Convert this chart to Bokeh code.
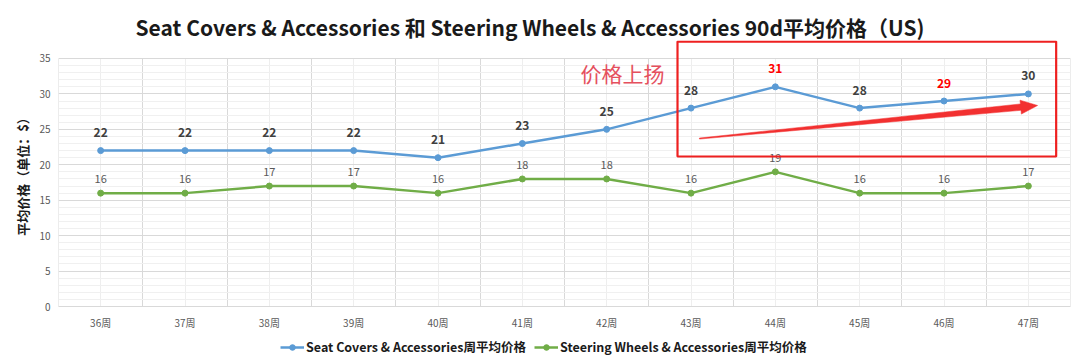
import math
from bokeh.plotting import figure
from bokeh.layouts import column
from bokeh.models import (ColumnDataSource, FactorRange, Range1d, FixedTicker, BoxAnnotation,
                          Label, LabelSet, Legend, LegendItem)
from bokeh.core.properties import value
from bokeh.embed import file_html
from bokeh.resources import INLINE

# ---------------- data ----------------
weeks = ["36周", "37周", "38周", "39周", "40周", "41周", "42周", "43周", "44周", "45周", "46周", "47周"]
seat_prices = [22, 22, 22, 22, 21, 23, 25, 28, 31, 28, 29, 30]
wheel_prices = [16, 16, 17, 17, 16, 18, 18, 16, 19, 16, 16, 17]
highlight_weeks = ["44周", "46周"]
y_ticks = [0, 5, 10, 15, 20, 25, 30, 35]
seat_name = "Seat Covers & Accessories周平均价格"
wheel_name = "Steering Wheels & Accessories周平均价格"
title_text = "Seat Covers & Accessories 和 Steering Wheels & Accessories  90d平均价格（US)"
y_label = "平均价格（单位：$）"
note_text = "价格上扬"

FONT = "Noto Sans CJK SC"
BLUE = "#5b9bd5"
GREEN = "#70ad47"
RED = "#ee2020"

# ---------------- main figure ----------------
FW, FH = 1076, 334
ML, MR, MT, MB = 58, 6, 40, 28
Y_TOP = 37.54          # a little headroom above the 35 gridline for the red highlight box
p = figure(width=FW, height=FH, x_range=FactorRange(*weeks), y_range=Range1d(0, Y_TOP),
           output_backend="svg", toolbar_location=None,
           min_border_left=ML, min_border_right=MR, min_border_top=MT, min_border_bottom=MB)
p.background_fill_color = "white"
p.border_fill_color = "white"
p.outline_line_color = None

# title
p.title.text = title_text
p.title.text_font = FONT
p.title.text_font_size = "21px"
p.title.text_font_style = "bold"
p.title.text_color = "#1a1a1a"
p.title.align = "left"
p.title.offset = 77
p.title.standoff = -3

# grids
n = len(weeks)
p.xgrid.ticker = FixedTicker(ticks=[0.0001] + list(range(1, n)) + [n - 0.0001],
                             minor_ticks=[i + 0.5 for i in range(n)])
p.xgrid.grid_line_color = "#d9d9d9"
p.xgrid.minor_grid_line_color = "#eeeeee"
if "cross_bounds" in p.xgrid[0].properties():
    p.xgrid.cross_bounds = (0, y_ticks[-1])
p.ygrid.ticker = FixedTicker(ticks=y_ticks, minor_ticks=list(range(0, y_ticks[-1] + 1)))
p.ygrid.grid_line_color = "#d9d9d9"
p.ygrid.minor_grid_line_color = "#f0f0f0"

# axes
p.yaxis.ticker = FixedTicker(ticks=y_ticks)
p.yaxis.axis_line_color = None
p.yaxis.major_tick_line_color = None
p.yaxis.minor_tick_line_color = None
p.yaxis.major_tick_out = 0
p.yaxis.major_tick_in = 0
p.yaxis.minor_tick_out = 0
p.yaxis.major_label_text_font = FONT
p.yaxis.major_label_text_font_size = "10px"
p.yaxis.major_label_text_color = "#595959"
p.yaxis.major_label_standoff = 8
p.yaxis.axis_label = y_label
p.yaxis.axis_label_text_font = FONT
p.yaxis.axis_label_text_font_size = "13px"
p.yaxis.axis_label_text_font_style = "bold"
p.yaxis.axis_label_text_color = "#1a1a1a"
p.yaxis.axis_label_standoff = 4

p.xaxis.axis_line_color = "#d9d9d9"
p.xaxis.major_tick_line_color = None
p.xaxis.minor_tick_line_color = None
p.xaxis.major_tick_out = 0
p.xaxis.major_tick_in = 0
p.xaxis.minor_tick_out = 0
p.xaxis.major_label_text_font = FONT
p.xaxis.major_label_text_font_size = "10px"
p.xaxis.major_label_text_color = "#595959"
p.xaxis.major_label_standoff = 8

# ---------------- series ----------------
seat_colors = ["#ff0000" if w in highlight_weeks else "#404040" for w in weeks]
src = ColumnDataSource(dict(week=weeks, seat=seat_prices, wheel=wheel_prices,
                            seat_lbl=[str(v) for v in seat_prices],
                            wheel_lbl=[str(v) for v in wheel_prices],
                            seat_col=seat_colors))

p.line("week", "seat", source=src, line_color=BLUE, line_width=2.5)
p.scatter("week", "seat", source=src, size=6, fill_color=BLUE, line_color=BLUE)
p.line("week", "wheel", source=src, line_color=GREEN, line_width=2.5)
p.scatter("week", "wheel", source=src, size=6, fill_color=GREEN, line_color=GREEN)

p.add_layout(LabelSet(x="week", y="seat", text="seat_lbl", source=src, y_offset=18,
                      text_align="center", text_baseline="middle", text_color="seat_col",
                      text_font=value(FONT), text_font_size="12px", text_font_style="bold"))
p.add_layout(LabelSet(x="week", y="wheel", text="wheel_lbl", source=src, y_offset=14,
                      text_align="center", text_baseline="middle", text_color="#595959",
                      text_font=value(FONT), text_font_size="11px"))

# ---------------- annotation: box, arrow, note ----------------
box = BoxAnnotation(left=7.34, right=11.83, bottom=21.17, top=Y_TOP - 0.15,
                    fill_alpha=0, line_color=RED, line_alpha=1, line_width=2.2)
p.add_layout(box)

# tapered arrow (pixel widths converted to data units)
xpx = (FW - ML - MR) / n
ypx = (FH - MT - MB) / Y_TOP
sx0, sy0 = 7.60, 23.7
tx, ty = 11.61, 28.37
dx, dy = (tx - sx0) * xpx, (ty - sy0) * ypx
L = math.hypot(dx, dy)
ux, uy = dx / L, dy / L
nx, ny = -uy, ux
head_len, shaft_w, head_w, tail_w = 17, 3.2, 7, 0.5
def pt(along, side):
    px_ = along * ux + side * nx
    py_ = along * uy + side * ny
    return sx0 + px_ / xpx, sy0 + py_ / ypx
pts = [pt(0, tail_w), pt(L - head_len, shaft_w), pt(L - head_len, head_w), pt(L, 0),
       pt(L - head_len, -head_w), pt(L - head_len, -shaft_w), pt(0, -tail_w)]
p.patch([q[0] for q in pts], [q[1] for q in pts], fill_color="#f23030", line_color="#f23030", line_width=0.5)

p.add_layout(Label(x=6.19, y=32.9, text=note_text, text_baseline="middle", text_align="left",
                   text_font=FONT, text_font_size="21px", text_color="#e5505e"))

# ---------------- legend strip (separate small figure; series drawn out of its view) ----------------
LH = 22
pl = figure(width=FW, height=LH, x_range=FactorRange(*weeks), y_range=Range1d(100, 101),
            x_axis_type=None, y_axis_type=None, output_backend="svg", toolbar_location=None,
            min_border_left=0, min_border_right=0, min_border_top=0, min_border_bottom=0)
pl.outline_line_color = None
pl.grid.visible = False
k1 = pl.line("week", "seat", source=src, line_color=BLUE, line_width=2.5)
k1s = pl.scatter("week", "seat", source=src, size=6, fill_color=BLUE, line_color=BLUE)
k2 = pl.line("week", "wheel", source=src, line_color=GREEN, line_width=2.5)
k2s = pl.scatter("week", "wheel", source=src, size=6, fill_color=GREEN, line_color=GREEN)
legend = Legend(items=[LegendItem(label=seat_name, renderers=[k1, k1s]),
                       LegendItem(label=wheel_name, renderers=[k2, k2s])],
                orientation="horizontal", location=(222, 0),
                border_line_color=None, background_fill_alpha=0,
                label_text_font=FONT, label_text_font_size="12.5px", label_text_font_style="bold",
                label_text_color="#1a1a1a", glyph_width=24, glyph_height=14,
                label_standoff=2, spacing=8, padding=2, margin=0)
pl.add_layout(legend, "center")

layout = column(p, pl, spacing=0)
open("out.html", "w").write(file_html(layout, INLINE))
